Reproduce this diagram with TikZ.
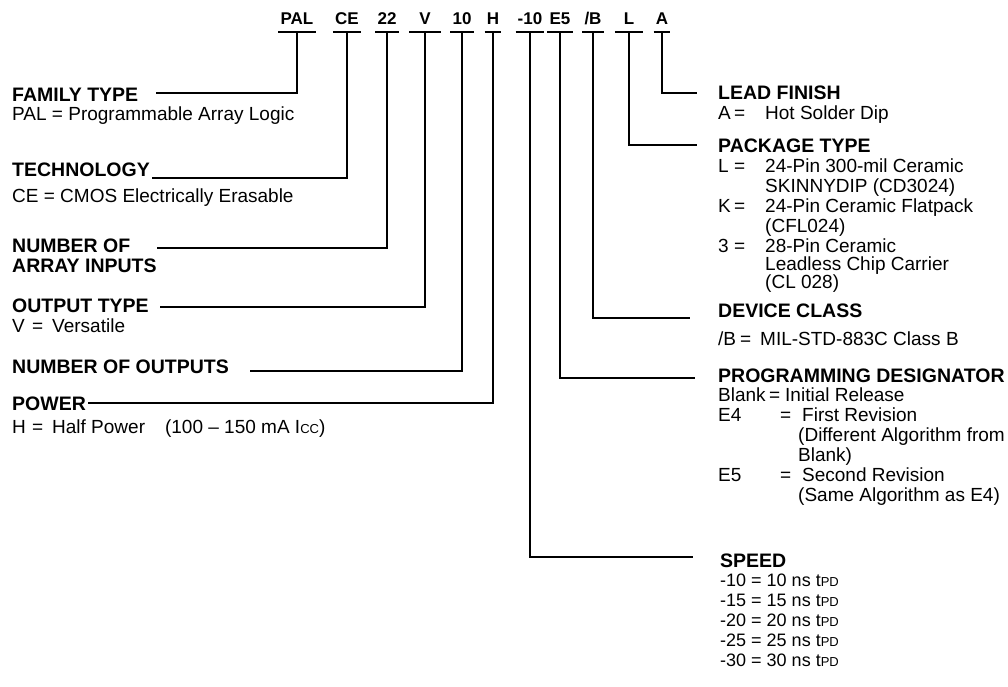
\documentclass[tikz,border=0pt]{standalone}
\usepackage{fontspec}
\setmainfont{Liberation Sans}
\usetikzlibrary{positioning}

\newcommand{\hdr}[1]{{\fontsize{19.5}{20}\selectfont\bfseries #1}}
\newcommand{\smc}[1]{{\fontsize{13}{20}\selectfont #1}}
\newcommand{\keyeq}[3]{\makebox[#1][l]{#2}\makebox[#3][l]{=}}

\begin{document}
\begin{tikzpicture}[x=1pt, y=1pt,
  code/.style={font=\fontsize{17}{20}\selectfont\bfseries, inner xsep=2pt, inner ysep=0pt, text depth=7pt, anchor=south},
  lbl/.style={font=\fontsize{19}{20}\selectfont, align=left, anchor=base west, inner sep=0pt},
  lead/.style={line width=2pt},
  uline/.style={line width=1.6pt}]

\useasboundingbox (0,0) rectangle (1008,-687);

% part number
\node[code] (pal) at (297,-32) {PAL};
\node[code] (ce) at (347,-32) {CE};
\node[code] (arr) at (387,-32) {22};
\node[code, minimum width=31pt] (vt) at (425,-32) {V};
\node[code] (nout) at (462,-32) {10};
\node[code] (pw) at (493,-32) {H};
\node[code] (spd) at (530,-32) {-10};
\node[code] (pd) at (560,-32) {E5};
\node[code] (dc) at (593,-32) {/B};
\node[code, minimum width=28pt] (pk) at (629,-32) {L};
\node[code] (lf) at (662,-32) {A};

\foreach \n in {pal,ce,arr,vt,nout,pw,spd,pd,dc,pk,lf}
  \draw[uline] (\n.south west) -- (\n.south east);

% left side (base = last line)
\node[lbl] (fam) at (12,-121) {\hdr{FAMILY TYPE}\\[-1pt] PAL = Programmable Array Logic};
\node[lbl] (tech) at (12,-202) {\hdr{TECHNOLOGY}\\[5pt] CE = CMOS Electrically Erasable};
\node[lbl] (ain) at (12,-272) {\hdr{NUMBER OF}\\ \hdr{ARRAY INPUTS}};
\node[lbl] (otype) at (12,-332) {\hdr{OUTPUT TYPE}\\ \keyeq{20pt}{V}{20pt}Versatile};
\node[lbl] (outs) at (12,-373) {\hdr{NUMBER OF OUTPUTS}};
\node[lbl] (power) at (12,-433) {\hdr{POWER}\\[3pt] \keyeq{20pt}{H}{20pt}Half Power\hspace{20pt}(100 -- 150 mA I\smc{CC})};

\coordinate (famend) at (156,-93);
\coordinate (techend) at (152,-178);
\coordinate (ainend) at (157,-248);
\coordinate (otend) at (160,-307);
\coordinate (outsend) at (250,-371);
\coordinate (powend) at (88,-403);

\draw[lead] (pal.south) |- (famend);
\draw[lead] (ce.south) |- (techend);
\draw[lead] (arr.south) |- (ainend);
\draw[lead] (vt.south) |- (otend);
\draw[lead] (nout.south) |- (outsend);
\draw[lead] (pw.south) |- (powend);

% right side
\node[lbl] (finish) at (718,-120) {\hdr{LEAD FINISH}\\ \keyeq{16pt}{A}{31pt}Hot Solder Dip};
\node[lbl] (pkg) at (718,-288) {\hdr{PACKAGE TYPE}\\
  \keyeq{16pt}{L}{31pt}24-Pin 300-mil Ceramic\\
  \hspace*{47pt}SKINNYDIP (CD3024)\\
  \keyeq{16pt}{K}{31pt}24-Pin Ceramic Flatpack\\
  \hspace*{47pt}(CFL024)\\
  \keyeq{16pt}{3}{31pt}28-Pin Ceramic\\[-2pt]
  \hspace*{47pt}Leadless Chip Carrier\\[-2pt]
  \hspace*{47pt}(CL 028)};
\node[lbl] (dev) at (718,-345) {\hdr{DEVICE CLASS}\\[8pt] \keyeq{22pt}{/B}{20pt}MIL-STD-883C Class B};
\node[lbl] (prog) at (718,-501) {\hdr{PROGRAMMING DESIGNATOR}\\[-1pt]
  \keyeq{51pt}{Blank}{16pt}Initial Release\\
  \keyeq{62pt}{E4}{22pt}First Revision\\
  \hspace*{80pt}(Different Algorithm from\\
  \hspace*{80pt}Blank)\\
  \keyeq{62pt}{E5}{22pt}Second Revision\\
  \hspace*{80pt}(Same Algorithm as E4)};
\node[lbl] (speed) at (720,-666) {\hdr{SPEED}\\[-1pt]
  {\fontsize{18}{20}\selectfont -10 = 10 ns t\smc{PD}}\\
  {\fontsize{18}{20}\selectfont -15 = 15 ns t\smc{PD}}\\
  {\fontsize{18}{20}\selectfont -20 = 20 ns t\smc{PD}}\\
  {\fontsize{18}{20}\selectfont -25 = 25 ns t\smc{PD}}\\
  {\fontsize{18}{20}\selectfont -30 = 30 ns t\smc{PD}}};

\coordinate (finishend) at (697,-93);
\coordinate (pkgend) at (697,-145);
\coordinate (devend) at (690,-318);
\coordinate (progend) at (695,-378);
\coordinate (speedend) at (693,-557);

\draw[lead] (lf.south) |- (finishend);
\draw[lead] (pk.south) |- (pkgend);
\draw[lead] (dc.south) |- (devend);
\draw[lead] (pd.south) |- (progend);
\draw[lead] (spd.south) |- (speedend);

\end{tikzpicture}
\end{document}
